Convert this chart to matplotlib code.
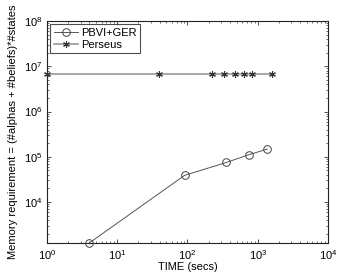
import matplotlib
matplotlib.use("Agg")
import matplotlib.pyplot as plt
from matplotlib.ticker import LogLocator, NullFormatter

pbvi_x = [4.0, 91, 357, 758, 1368]
pbvi_y = [1250, 3.9e4, 7.5e4, 1.12e5, 1.48e5]
perseus_x = [1.0, 39, 225, 327, 470, 644, 820, 1611]
perseus_y = [6.7e6] * 8

plt.rcParams['font.family'] = ['Liberation Sans', 'DejaVu Sans']
plt.rcParams['mathtext.fontset'] = 'custom'
plt.rcParams['mathtext.rm'] = 'Liberation Sans'

fig = plt.figure(figsize=(3.63, 2.73), dpi=100)
ax = fig.add_axes([0.1295, 0.110, 0.774, 0.813])

ax.plot(pbvi_x, pbvi_y, color='#555555', lw=0.7, marker='o', ms=5.5,
        mfc='none', mec='#444444', mew=0.7, label='PBVI+GER', clip_on=False, zorder=3)
ax.plot(perseus_x, perseus_y, color='#999999', lw=1.2, marker=(6, 2, 0), ms=4.8,
        mec='#333333', mew=0.8, label='Perseus', clip_on=False, zorder=3)

ax.set_xscale('log')
ax.set_yscale('log')
ax.set_xlim(1, 1e4)
ax.set_ylim(1250, 1e8)
ax.xaxis.set_major_locator(LogLocator(base=10, numticks=10))
ax.yaxis.set_major_locator(LogLocator(base=10, numticks=10))
ax.xaxis.set_minor_locator(LogLocator(base=10, subs=range(2, 10), numticks=20))
ax.yaxis.set_minor_locator(LogLocator(base=10, subs=range(2, 10), numticks=20))
ax.yaxis.set_minor_formatter(NullFormatter())
ax.xaxis.set_minor_formatter(NullFormatter())

ax.tick_params(which='both', direction='in', top=True, right=True, labelsize=8, color='#333333')
ax.tick_params(which='major', length=3, width=0.6)
ax.tick_params(which='minor', length=1.6, width=0.5)
for s in ax.spines.values():
    s.set_linewidth(0.8)
    s.set_color('#222222')

ax.set_xlabel('TIME (secs)', fontsize=8, labelpad=0)
ax.set_ylabel('Memory requirement = (#alphas + #beliefs)*#states', fontsize=8, labelpad=4)

leg = ax.legend(loc='upper left', fontsize=8, frameon=True, fancybox=False,
                edgecolor='#222222', borderpad=0.3, labelspacing=0.2,
                handlelength=2.2, handletextpad=0.3, borderaxespad=0.3)
leg.get_frame().set_linewidth(0.8)

fig.savefig('out.png', dpi=100)
